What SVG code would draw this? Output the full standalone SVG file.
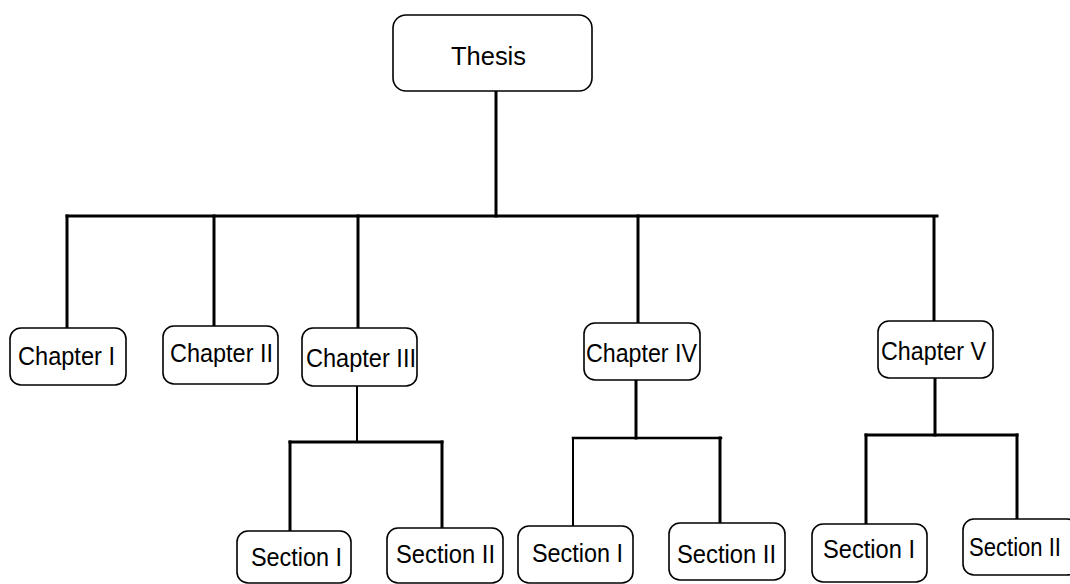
<svg xmlns="http://www.w3.org/2000/svg" width="1070" height="584" viewBox="0 0 1070 584">
<style>
.box{fill:#fff;stroke:#000;stroke-width:1.6}
.t{font-family:"Liberation Sans",Arial,sans-serif;font-size:26px;fill:#000}
.c{stroke:#000;stroke-width:3;fill:none;stroke-linecap:square}
.thin{stroke-width:2}
</style>
<rect width="1070" height="584" fill="#fff"/>
<g id="connectors">
<line class="c" x1="496" y1="91" x2="496" y2="216"/>
<line class="c" x1="67" y1="216" x2="937" y2="216"/>
<line class="c" x1="67" y1="216" x2="67" y2="328"/>
<line class="c" x1="214" y1="216" x2="214" y2="326"/>
<line class="c" x1="358" y1="216" x2="358" y2="328"/>
<line class="c" x1="638" y1="216" x2="638" y2="323"/>
<line class="c" x1="934" y1="218" x2="934" y2="321"/>
<line class="c thin" x1="357" y1="386" x2="357" y2="442"/>
<line class="c" x1="290" y1="442" x2="442" y2="442"/>
<line class="c" x1="290" y1="442" x2="290" y2="531"/>
<line class="c" x1="442" y1="442" x2="442" y2="528"/>
<line class="c" x1="636" y1="380" x2="636" y2="438"/>
<line class="c" x1="573" y1="438" x2="721" y2="438" style="stroke-width:2.5"/>
<line class="c thin" x1="573" y1="438" x2="573" y2="526"/>
<line class="c" x1="720" y1="438" x2="720" y2="526"/>
<line class="c" x1="935" y1="378" x2="935" y2="435"/>
<line class="c" x1="866" y1="435" x2="1017" y2="435"/>
<line class="c" x1="866" y1="435" x2="866" y2="523"/>
<line class="c" x1="1017" y1="435" x2="1017" y2="520"/>
</g>
<g id="thesis"><rect class="box" x="393" y="15" width="199" height="76" rx="13"/><text class="t" x="451" y="65" textLength="75" lengthAdjust="spacingAndGlyphs">Thesis</text></g>
<g id="ch1"><rect class="box" x="10" y="328" width="116" height="57" rx="11"/><text class="t" x="18" y="365" textLength="97" lengthAdjust="spacingAndGlyphs">Chapter I</text></g>
<g id="ch2"><rect class="box" x="163" y="326" width="115" height="58" rx="11"/><text class="t" x="170" y="362" textLength="103" lengthAdjust="spacingAndGlyphs">Chapter II</text></g>
<g id="ch3"><rect class="box" x="302" y="328" width="115" height="58" rx="11"/><text class="t" x="306" y="367" textLength="110" lengthAdjust="spacingAndGlyphs">Chapter III</text></g>
<g id="ch4"><rect class="box" x="584" y="323" width="116" height="57" rx="11"/><text class="t" x="586" y="362" textLength="111" lengthAdjust="spacingAndGlyphs">Chapter IV</text></g>
<g id="ch5"><rect class="box" x="878" y="321" width="115" height="57" rx="11"/><text class="t" x="881" y="360" textLength="105" lengthAdjust="spacingAndGlyphs">Chapter V</text></g>
<g id="s3a"><rect class="box" x="237" y="531" width="114" height="52" rx="11"/><text class="t" x="251" y="566" textLength="91" lengthAdjust="spacingAndGlyphs">Section I</text></g>
<g id="s3b"><rect class="box" x="387" y="528" width="116" height="55" rx="11"/><text class="t" x="396" y="563" textLength="99" lengthAdjust="spacingAndGlyphs">Section II</text></g>
<g id="s4a"><rect class="box" x="518" y="526" width="115" height="57" rx="11"/><text class="t" x="532" y="562" textLength="91" lengthAdjust="spacingAndGlyphs">Section I</text></g>
<g id="s4b"><rect class="box" x="669" y="523" width="116" height="57" rx="11"/><text class="t" x="677" y="563" textLength="99" lengthAdjust="spacingAndGlyphs">Section II</text></g>
<g id="s5a"><rect class="box" x="812" y="524" width="115" height="58" rx="11"/><text class="t" x="823" y="558" textLength="92" lengthAdjust="spacingAndGlyphs">Section I</text></g>
<g id="s5b"><rect class="box" x="963" y="519" width="115" height="56" rx="11"/><text class="t" x="969" y="556" textLength="92" lengthAdjust="spacingAndGlyphs">Section II</text></g>
</svg>
